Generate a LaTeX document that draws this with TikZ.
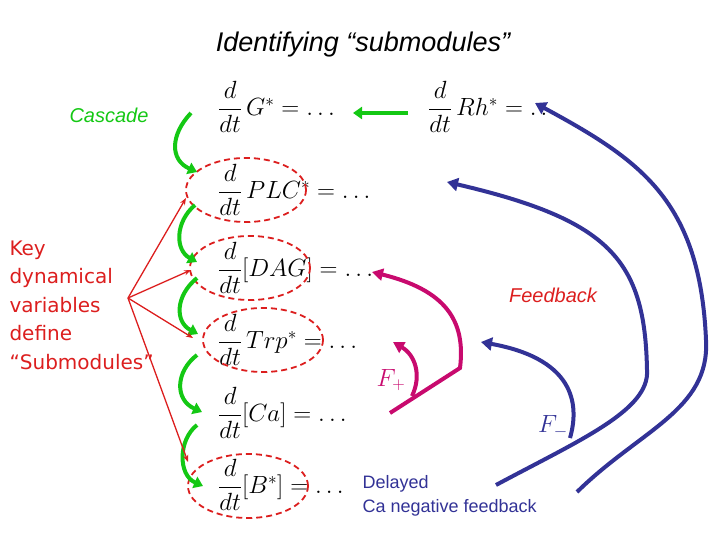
\documentclass[tikz,border=0pt]{standalone}
\usepackage{fontspec}
\setmainfont{Liberation Sans}
\newfontfamily\keyfont{DejaVu Sans}
\usepackage{amsmath}
\usetikzlibrary{arrows.meta,shapes.geometric}
\definecolor{gr}{RGB}{20,200,20}
\definecolor{rd}{RGB}{220,30,30}
\definecolor{mg}{RGB}{200,10,110}
\definecolor{bl}{RGB}{50,50,150}
\begin{document}
\begin{tikzpicture}[x=1pt,y=-1pt,
  eq/.style={anchor=west,inner sep=0pt,font=\fontsize{23}{25}\selectfont},
  ell/.style={draw=rd,line width=1.8pt,ellipse,minimum width=120pt,minimum height=64pt,dash pattern=on 6pt off 4pt},
  garr/.style={draw=gr,line width=4pt,-{Triangle[length=9pt,width=12pt]}},
  rarr/.style={draw=rd,line width=1.3pt,-{Stealth[length=7pt]}},
  marr/.style={draw=mg,line width=4pt,-{Triangle[length=11pt,width=12pt]}},
  barr/.style={draw=bl,line width=4pt,-{Triangle[length=11pt,width=13pt]}}]
\useasboundingbox (0,0) rectangle (720,540);
\node[font=\fontsize{27}{29}\selectfont\itshape] (title) at (363,45) {Identifying “submodules”};
\node[text=gr,font=\fontsize{20}{22}\selectfont\itshape,anchor=west] (casc) at (66,115) {Cascade};
\node[eq] (g) at (218,107) {$\dfrac{d}{dt}\,G^{*}=\ldots$};
\node[eq] (rh) at (428,107) {$\dfrac{d}{dt}\,Rh^{*}=\ldots$};
\node[eq] (plc) at (218,190) {$\dfrac{d}{dt}\,PLC^{*}=\ldots$};
\node[eq] (dag) at (218,268) {$\dfrac{d}{dt}[DAG]=\ldots$};
\node[eq] (trp) at (218,340) {$\dfrac{d}{dt}\,Trp^{*}=\ldots$};
\node[eq] (ca) at (218,413) {$\dfrac{d}{dt}[Ca]=\ldots$};
\node[eq] (b) at (218,485) {$\dfrac{d}{dt}[B^{*}]=\ldots$};
\node[ell] (e1) at (246,190) {};
\node[ell] (e2) at (250,268) {};
\node[ell] (e3) at (263,340) {};
\node[ell] (e4) at (248,486) {};
\coordinate (ga) at (408,113); \coordinate (gb) at (353,113);
\draw[garr] (ga) -- (gb);
\coordinate (c1) at (191,113); \coordinate (c2) at (197,172);
\coordinate (c3) at (195,205); \coordinate (c4) at (197,262);
\coordinate (c5) at (197,278); \coordinate (c6) at (198,334);
\coordinate (c7) at (197,355); \coordinate (c8) at (202,412);
\coordinate (c9) at (197,425); \coordinate (c10) at (203,486);
\draw[garr] (c1) .. controls (170,135) and (170,160) .. (c2);
\draw[garr] (c3) .. controls (175,222) and (175,250) .. (c4);
\draw[garr] (c5) .. controls (175,296) and (175,322) .. (c6);
\draw[garr] (c7) .. controls (175,372) and (175,400) .. (c8);
\draw[garr] (c9) .. controls (178,440) and (178,475) .. (c10);
\node[text=rd,font=\keyfont\fontsize{20}{28.5}\selectfont,align=left,anchor=north west] (key) at (6,237) {Key\\dynamical\\variables\\define\\“Submodules”};
\coordinate (k) at (128,298);
\draw[rarr] (k) -- (186,198);
\draw[rarr] (k) -- (191,270);
\draw[rarr] (k) -- (193,338);
\draw[rarr] (k) -- (188,462);
\node[text=rd,font=\fontsize{20}{22}\selectfont\itshape] (fb) at (553,295) {Feedback};
\coordinate (m1) at (390,413); \coordinate (m2) at (372,272);
\draw[marr] (m1) -- (460,368) .. controls (466,320) and (445,290) .. (m2);
\coordinate (m3) at (412,396); \coordinate (m4) at (393,342);
\draw[marr] (m3) .. controls (422,375) and (415,355) .. (m4);
\node[text=mg,font=\fontsize{26}{28}\selectfont] (fp) at (391,380) {$F_{+}$};
\coordinate (b1) at (577,492); \coordinate (b2) at (535,103);
\draw[barr] (b1) .. controls (640,430) and (710,410) .. (706,340) .. controls (700,200) and (640,160) .. (b2);
\coordinate (b3) at (496,485); \coordinate (b4) at (447,182);
\draw[barr] (b3) .. controls (580,440) and (650,410) .. (647,370) .. controls (645,260) and (610,220) .. (b4);
\coordinate (b5) at (570,438); \coordinate (b6) at (481,342);
\draw[barr] (b5) .. controls (578,410) and (580,360) .. (b6);
\node[text=bl,font=\fontsize{26}{28}\selectfont] (fm) at (553,427) {$F_{-}$};
\node[text=bl,font=\fontsize{18}{24}\selectfont,align=left,anchor=north west] (del) at (359,472) {Delayed\\Ca negative feedback};
\end{tikzpicture}
\end{document}
